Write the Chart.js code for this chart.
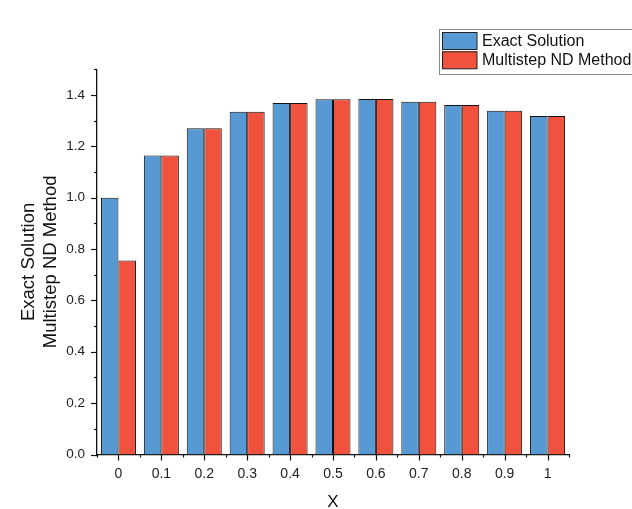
<!DOCTYPE html>
<html>
<head>
<meta charset="utf-8">
<script src="https://cdn.jsdelivr.net/npm/chart.js@4.4.1/dist/chart.umd.min.js"></script>
<style>
  html, body { margin: 0; padding: 0; background: #ffffff; }
  #wrap { width: 632px; height: 509px; position: relative; }
</style>
</head>
<body>
<div id="wrap"><canvas id="c" width="632" height="509"></canvas></div>
<script>
// x positions along the axis
const categories = ['0', '0.1', '0.2', '0.3', '0.4', '0.5', '0.6', '0.7', '0.8', '0.9', '1'];
// exact solution values
const exactSolution = [1.000, 1.164, 1.270, 1.335, 1.369, 1.383, 1.384, 1.374, 1.361, 1.339, 1.318];
// multistep ND method values
const multistepND = [0.755, 1.164, 1.270, 1.335, 1.369, 1.383, 1.384, 1.374, 1.361, 1.339, 1.318];
// y tick labels (major ticks every 0.2)
const yTickLabels = ['0.0', '0.2', '0.4', '0.6', '0.8', '1.0', '1.2', '1.4'];

const FONT = '"Liberation Sans", Arial, Helvetica, sans-serif';
const BLUE = '#5799D3';
const RED = '#F0523D';

// outward tick marks: majors at labels, minors in between
const tickMarks = {
  id: 'tickMarks',
  afterDraw(chart) {
    const ctx = chart.ctx;
    const x = chart.scales.x, y = chart.scales.y;
    const left = chart.chartArea.left, bottom = chart.chartArea.bottom;
    ctx.save();
    ctx.strokeStyle = '#111';
    ctx.lineWidth = 1.2;
    // y axis
    for (let i = 0; i <= 15; i++) {
      const v = i / 10;
      const py = Math.round(y.getPixelForValue(v)) + 0.5;
      const len = (i % 2 === 0) ? 6 : 3;
      ctx.beginPath();
      ctx.moveTo(left, py);
      ctx.lineTo(left - len, py);
      ctx.stroke();
    }
    // x axis
    const n = categories.length;
    for (let i = 0; i < n; i++) {
      const px = Math.round(x.getPixelForValue(i)) + 0.5;
      ctx.beginPath();
      ctx.moveTo(px, bottom);
      ctx.lineTo(px, bottom + 6);
      ctx.stroke();
    }
    for (let i = 0; i <= n; i++) {
      const px = Math.round(x.getPixelForValue(i - 0.5)) + 0.5;
      ctx.beginPath();
      ctx.moveTo(px, bottom);
      ctx.lineTo(px, bottom + 3);
      ctx.stroke();
    }
    ctx.restore();
  }
};

// axis titles
const axisTitles = {
  id: 'axisTitles',
  afterDraw(chart) {
    const ctx = chart.ctx;
    const a = chart.chartArea;
    ctx.save();
    ctx.fillStyle = '#111';
    ctx.textAlign = 'center';
    ctx.textBaseline = 'alphabetic';
    ctx.font = '17px ' + FONT;
    ctx.fillText('X', (a.left + a.right) / 2, 507);
    const cy = (a.top + a.bottom) / 2;
    ctx.translate(0, cy);
    ctx.rotate(-Math.PI / 2);
    ctx.font = '18.5px ' + FONT;
    ctx.fillText('Exact Solution', 0, 34);
    ctx.fillText('Multistep ND Method', 0, 55.5);
    ctx.restore();
  }
};

// boxed legend in the upper right corner
const boxLegend = {
  id: 'boxLegend',
  afterDraw(chart) {
    const ctx = chart.ctx;
    ctx.save();
    ctx.strokeStyle = '#8a8a8a';
    ctx.lineWidth = 1;
    ctx.strokeRect(439.5, 29.5, 200, 45);
    const rows = [32, 51.3];
    chart.data.datasets.forEach((ds, i) => {
      const top = rows[i];
      ctx.fillStyle = ds.backgroundColor;
      ctx.fillRect(442, top, 35, 17.5);
      ctx.strokeStyle = '#222';
      ctx.lineWidth = 1;
      ctx.strokeRect(442.5, top + 0.5, 34.5, 17);
      ctx.fillStyle = '#111';
      ctx.font = '16px ' + FONT;
      ctx.textAlign = 'left';
      ctx.textBaseline = 'middle';
      ctx.fillText(ds.label, 482, top + 9.5);
    });
    ctx.restore();
  }
};

new Chart(document.getElementById('c'), {
  type: 'bar',
  data: {
    labels: categories,
    datasets: [
      {
        label: 'Exact Solution',
        data: exactSolution,
        backgroundColor: BLUE,
        borderColor: '#111',
        borderWidth: 1
      },
      {
        label: 'Multistep ND Method',
        data: multistepND,
        backgroundColor: RED,
        borderColor: '#111',
        borderWidth: 1
      }
    ]
  },
  options: {
    responsive: false,
    animation: false,
    devicePixelRatio: 1,
    layout: { padding: { top: 69.3, right: 63, left: 0, bottom: 0 } },
    datasets: { bar: { categoryPercentage: 0.816, barPercentage: 1.0 } },
    plugins: { legend: { display: false }, tooltip: { enabled: false } },
    scales: {
      x: {
        type: 'category',
        offset: true,
        grid: { display: false, drawTicks: false },
        border: { display: true, color: '#111', width: 1.3 },
        ticks: { color: '#222', font: { family: FONT, size: 14 }, padding: 11, maxRotation: 0, autoSkip: false },
        afterFit(scale) { scale.height = 54.5; }
      },
      y: {
        type: 'linear',
        min: 0,
        max: 1.5,
        grid: { display: false, drawTicks: false },
        border: { display: true, color: '#111', width: 1.3 },
        ticks: {
          stepSize: 0.2,
          color: '#222',
          font: { family: FONT, size: 13.5 },
          padding: 12,
          autoSkip: false,
          callback(value) {
            const k = Math.round(value / 0.2);
            if (Math.abs(value - k * 0.2) < 1e-6 && k < yTickLabels.length) return yTickLabels[k];
            return '';
          }
        },
        afterFit(scale) { scale.width = 97; }
      }
    }
  },
  plugins: [tickMarks, axisTitles, boxLegend]
});
</script>
</body>
</html>
